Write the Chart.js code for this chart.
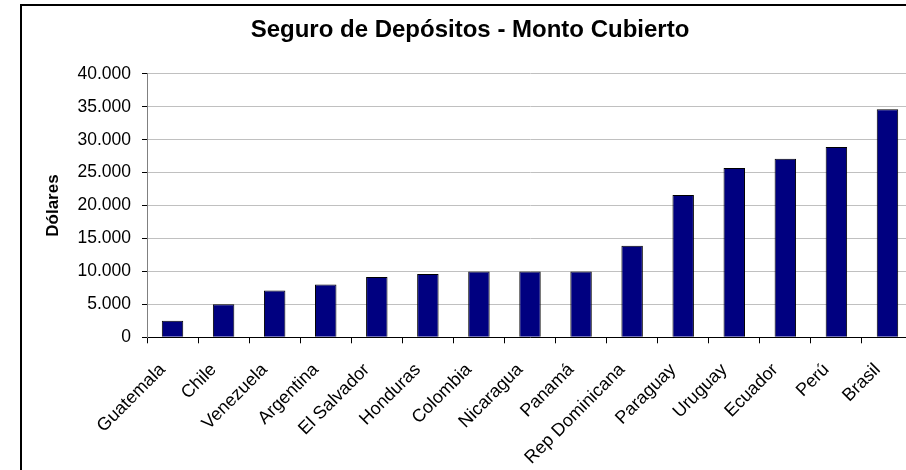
<!DOCTYPE html>
<html>
<head>
<meta charset="utf-8">
<script src="https://cdn.jsdelivr.net/npm/chart.js@4"></script>
<style>
    body{
        margin:0;
        width:906px;
        height:470px;
        overflow:hidden;
        background:#fff;
        position:relative;
    }
    #wrap{
        position:absolute;
        left:0;
        top:0;
        width:930px;
        height:480px;
    }
    #frame{
        position:absolute;
        left:20px;
        top:4px;
        width:900px;
        height:500px;
        border:2px solid #000;
        pointer-events:none;
    }
</style>
</head>
<body>
<div id="wrap"><canvas id="montoChart"></canvas></div>
<div id="frame"></div>
<script>
const paises = [
    'Guatemala','Chile','Venezuela','Argentina','El Salvador',
    'Honduras','Colombia','Nicaragua','Panamá','Rep Dominicana',
    'Paraguay','Uruguay','Ecuador','Perú','Brasil'
];

const montoCubierto = [
    2500,5000,7100,8000,9150,
    9600,10000,10000,10000,13900,
    21600,25700,27100,28900,34600
];

const yTicks = [0,5000,10000,15000,20000,25000,30000,35000,40000];

function puntos(v){
    return String(v).replace(/\B(?=(\d{3})+(?!\d))/g,'.');
}

Chart.defaults.font.family =
"'Liberation Sans', Arial, sans-serif";
Chart.defaults.color = '#000';

const montoChart =
document.getElementById('montoChart');

// left padding 27 keeps the title centred on the frame, not the plot
new Chart(montoChart, {
    type: 'bar',
    data: {
        labels: paises,
        datasets: [{
            label: 'Monto Cubierto',
            data: montoCubierto,
            backgroundColor: '#000080',
            borderColor: '#000',
            borderWidth: 1,
            categoryPercentage: 1,
            barPercentage: 0.42
        }]
    },
    options: {
        responsive: true,
        maintainAspectRatio: false,
        animation: false,
        layout: {
            padding: {left:27, top:0, right:17, bottom:0}
        },
        plugins: {
            legend: {display:false},
            tooltip: {enabled:false},
            title: {
                display: true,
                text: 'Seguro de Depósitos - Monto Cubierto',
                color: '#000',
                font: {size:24, weight:'bold'},
                padding: {top:16, bottom:29}
            }
        },
        scales: {
            x: {
                afterFit: s => { s.height = 142.7; },
                grid: {
                    drawOnChartArea: false,
                    drawTicks: true,
                    tickLength: 6,
                    tickColor: '#000'
                },
                border: {color:'#000', width:1},
                ticks: {
                    font: {size:18},
                    color: '#000',
                    minRotation: 45,
                    maxRotation: 45,
                    autoSkip: false,
                    padding: 16,
                    labelOffset: -10
                },
            },
            y: {
                min: 0,
                max: 40000,
                afterFit: s => { s.width = 120; },
                afterBuildTicks: s => {
                    s.ticks = yTicks.map(v => ({value:v}));
                },
                grid: {
                    color: '#c0c0c0',
                    lineWidth: 1,
                    tickLength: 5,
                    tickColor: '#000'
                },
                border: {color:'#808080', width:1},
                ticks: {
                    font: {size:17.5},
                    color: '#000',
                    padding: 11,
                    callback: v => puntos(v)
                },
                title: {
                    display: true,
                    text: 'Dólares',
                    color: '#000',
                    font: {size:17, weight:'bold'},
                    padding: {top:16, bottom:0}
                }
            }
        }
    }
});
</script>
</body>
</html>
